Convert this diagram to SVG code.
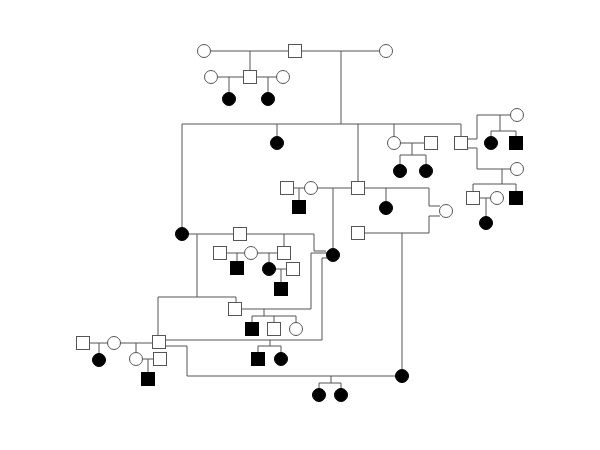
<svg xmlns="http://www.w3.org/2000/svg" width="600" height="450" viewBox="0 0 600 450">
<defs>
<style>
.c{fill:none;stroke:#555;stroke-width:1}
.o{fill:#fff;stroke:#555;stroke-width:1}
.f{fill:#000;stroke:#000;stroke-width:1}
</style>
<rect id="sq" x="-6.5" y="-6.5" width="13" height="13"/>
<circle id="ci" r="6.5"/>
</defs>
<rect width="600" height="450" fill="#fff"/>
<g id="connectors" class="c">
<path d="M204,51H386M250,51V71M211,77H283M229,77V92M268,77V92M341,51V124"/>
<path d="M182,124H461M182,124V227M277,124V136M358,124V182M461,124V137M394,124V137"/>
<path d="M394,143H431M412,143V155M400,155H426M400,155V164M426,155V164"/>
<path d="M467,139H477V115H511M500,115V131M491,131H516M491,131V136M516,131V137"/>
<path d="M467,148H477V169H511M502,169V184M473,184H516M473,184V192M516,184V192M473,198H497M486,198V216"/>
<path d="M287,188H358M299,188V201M333,188V248"/>
<path d="M364,188H429V206H440M386,188V201M364,233H429V216H440M402,233V369"/>
<path d="M182,234H314V251H326M197,234V297M284,234V247"/>
<path d="M220,253H284M237,253V262M269,253V262M269,269H293M281,269V283"/>
<path d="M327,253H311V309H235M158,297H236V303M158,297V336"/>
<path d="M264,309V316M252,316H296M252,316V323M274,316V323M296,316V323"/>
<path d="M165,340H322V258H327M270,340V346M258,346H281M258,346V353M281,346V353"/>
<path d="M165,346H187V376H396"/>
<path d="M83,343H159M99,343V354M136,343V353M136,359H160M148,359V373"/>
<path d="M331,376V383M319,383H341M319,383V389M341,383V389"/>
</g>
<g id="n1"><use href="#ci" x="204" y="51" class="o"/></g>
<g id="n2"><use href="#sq" x="295" y="51" class="o"/></g>
<g id="n3"><use href="#ci" x="386" y="51" class="o"/></g>
<g id="n4"><use href="#ci" x="211" y="77" class="o"/></g>
<g id="n5"><use href="#sq" x="250" y="77" class="o"/></g>
<g id="n6"><use href="#ci" x="283" y="77" class="o"/></g>
<g id="n7"><use href="#ci" x="229" y="99" class="f"/></g>
<g id="n8"><use href="#ci" x="268" y="99" class="f"/></g>
<g id="n9"><use href="#ci" x="277" y="143" class="f"/></g>
<g id="n10"><use href="#ci" x="394" y="143" class="o"/></g>
<g id="n11"><use href="#sq" x="431" y="143" class="o"/></g>
<g id="n12"><use href="#ci" x="400" y="171" class="f"/></g>
<g id="n13"><use href="#ci" x="426" y="171" class="f"/></g>
<g id="n14"><use href="#sq" x="461" y="143" class="o"/></g>
<g id="n15"><use href="#ci" x="517" y="115" class="o"/></g>
<g id="n16"><use href="#ci" x="491" y="143" class="f"/></g>
<g id="n17"><use href="#sq" x="516" y="143" class="f"/></g>
<g id="n18"><use href="#ci" x="517" y="169" class="o"/></g>
<g id="n19"><use href="#sq" x="473" y="198" class="o"/></g>
<g id="n20"><use href="#ci" x="497" y="198" class="o"/></g>
<g id="n21"><use href="#sq" x="516" y="198" class="f"/></g>
<g id="n22"><use href="#ci" x="486" y="223" class="f"/></g>
<g id="n23"><use href="#sq" x="287" y="188" class="o"/></g>
<g id="n24"><use href="#ci" x="311" y="188" class="o"/></g>
<g id="n25"><use href="#sq" x="299" y="207" class="f"/></g>
<g id="n26"><use href="#sq" x="358" y="188" class="o"/></g>
<g id="n27"><use href="#ci" x="386" y="208" class="f"/></g>
<g id="n28"><use href="#ci" x="446" y="211" class="o"/></g>
<g id="n29"><use href="#sq" x="358" y="233" class="o"/></g>
<g id="n30"><use href="#ci" x="182" y="234" class="f"/></g>
<g id="n31"><use href="#sq" x="240" y="234" class="o"/></g>
<g id="n32"><use href="#ci" x="333" y="255" class="f"/></g>
<g id="n33"><use href="#sq" x="220" y="253" class="o"/></g>
<g id="n34"><use href="#ci" x="251" y="253" class="o"/></g>
<g id="n35"><use href="#sq" x="284" y="253" class="o"/></g>
<g id="n36"><use href="#sq" x="237" y="268" class="f"/></g>
<g id="n37"><use href="#ci" x="269" y="269" class="f"/></g>
<g id="n38"><use href="#sq" x="293" y="269" class="o"/></g>
<g id="n39"><use href="#sq" x="281" y="289" class="f"/></g>
<g id="n40"><use href="#sq" x="235" y="309" class="o"/></g>
<g id="n41"><use href="#sq" x="252" y="329" class="f"/></g>
<g id="n42"><use href="#sq" x="274" y="329" class="o"/></g>
<g id="n43"><use href="#ci" x="296" y="329" class="o"/></g>
<g id="n44"><use href="#sq" x="159" y="342" class="o"/></g>
<g id="n45"><use href="#sq" x="258" y="359" class="f"/></g>
<g id="n46"><use href="#ci" x="281" y="359" class="f"/></g>
<g id="n47"><use href="#sq" x="83" y="343" class="o"/></g>
<g id="n48"><use href="#ci" x="114" y="343" class="o"/></g>
<g id="n49"><use href="#ci" x="99" y="360" class="f"/></g>
<g id="n50"><use href="#ci" x="136" y="359" class="o"/></g>
<g id="n51"><use href="#sq" x="160" y="359" class="o"/></g>
<g id="n52"><use href="#sq" x="148" y="379" class="f"/></g>
<g id="n53"><use href="#ci" x="402" y="376" class="f"/></g>
<g id="n54"><use href="#ci" x="319" y="395" class="f"/></g>
<g id="n55"><use href="#ci" x="341" y="395" class="f"/></g>
</svg>
